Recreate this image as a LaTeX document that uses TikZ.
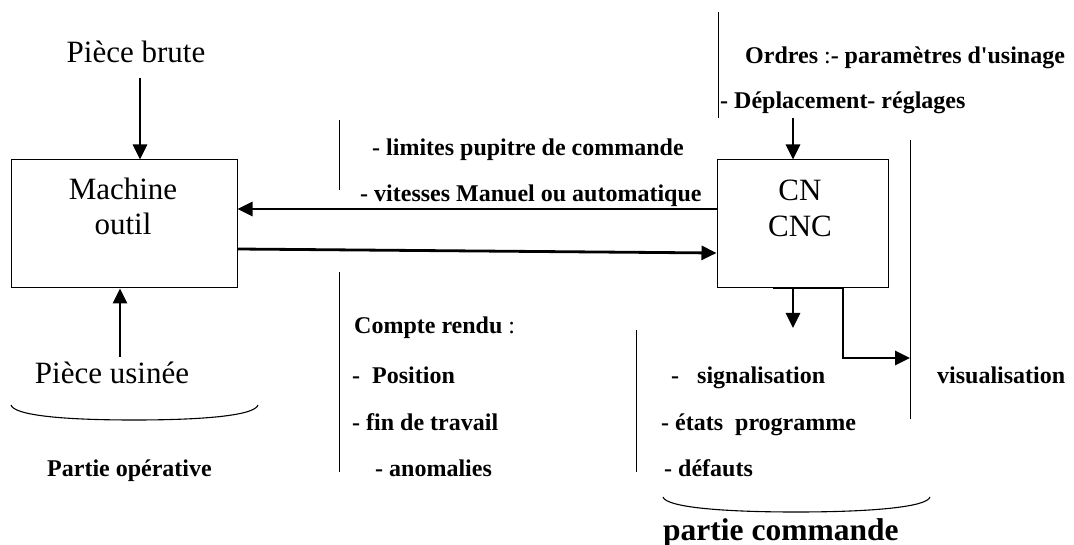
\documentclass[tikz,border=0pt]{standalone}
\usepackage{fontspec}
\setmainfont{Liberation Serif}
\usetikzlibrary{arrows.meta}

\begin{document}
\begin{tikzpicture}[x=1pt,y=-1pt,
  block/.style={draw=black,line width=1pt,minimum width=#1,minimum height=128pt,inner sep=0pt},
  big/.style={font=\fontsize{31}{35}\selectfont,inner sep=0pt,anchor=base},
  lbl/.style={font=\fontsize{24}{28}\selectfont\bfseries,inner sep=0pt,anchor=base west},
  flow/.style={line width=2.8pt,-{Triangle[length=15pt,width=14pt]}},
  link/.style={line width=2.8pt},
  sep/.style={line width=0.9pt},
  brace/.style={line width=1.1pt}]
\useasboundingbox (0,0) rectangle (1074,545);

% the two blocks
\node[block=226pt] (M) at (124,224) {};
\node[block=171pt] (C) at (802.5,224) {};
\node[big] (Mt1) at (123,200) {Machine};
\node[big] (Mt2) at (123,235) {outil};
\node[big] (Ct1) at (800,201) {CN};
\node[big] (Ct2) at (800,236.5) {CNC};

% raw and machined part
\node[big] (pb) at (136,63) {Pièce brute};
\node[big] (pu) at (112,383) {Pièce usinée};
\coordinate (pbOut) at (140,78);
\coordinate (puOut) at (120,357);
\draw[flow] (pbOut) -- (pbOut |- M.north);
\draw[flow] (puOut) -- (puOut |- M.south);

% exchanges between machine and controller
\coordinate (ordIn) at (M.east |- 0,209);
\coordinate (ordOut) at (C.west |- 0,209);
\coordinate (crOut) at (M.east |- 0,249);
\coordinate (crIn) at (C.west |- 0,253);
\draw[flow] (ordOut) -- (ordIn);
\draw[flow] (crOut) -- (crIn);

% orders entering the controller
\coordinate (cmdIn) at (793,118);
\draw[flow] (cmdIn) -- (cmdIn |- C.north);

% controller outputs
\coordinate (oL) at (773,288);
\coordinate (oA) at (793,288);
\coordinate (oB) at (843,288);
\coordinate (vis) at (910,358);
\draw[link] (oL) -- (oB);
\draw[flow] (oA) -- ++(0,40);
\draw[flow] (oB) -- (oB |- vis) -- (vis);

% separator strokes
\coordinate (s1a) at (339,120); \coordinate (s1b) at (339,190);
\coordinate (s2a) at (339,272); \coordinate (s2b) at (339,472);
\coordinate (s3a) at (718,12);  \coordinate (s3b) at (718,118);
\coordinate (s4a) at (910,140); \coordinate (s4b) at (910,419);
\coordinate (s5a) at (636,330); \coordinate (s5b) at (636,472);
\draw[sep] (s1a) -- (s1b);
\draw[sep] (s2a) -- (s2b);
\draw[sep] (s3a) -- (s3b);
\draw[sep] (s4a) -- (s4b);
\draw[sep] (s5a) -- (s5b);

% labels
\node[lbl] (l1) at (372,155.7) {- limites pupitre de commande};
\node[lbl] (l2) at (360,201.7) {- vitesses Manuel ou automatique};
\node[lbl] (o1) at (745,63.3) {Ordres {\mdseries :}- paramètres d\textquotesingle usinage};
\node[lbl] (o2) at (720,108.3) {- Déplacement- réglages};
\node[lbl] (r0) at (354,334) {Compte rendu {\mdseries :}};
\node[lbl] (r1) at (352,384) {-\ \ Position};
\node[lbl] (r2) at (352,430.7) {- fin de travail};
\node[lbl] (r3) at (375,476.7) {- anomalies};
\node[lbl] (g1) at (671,384) {-\ \ \ signalisation};
\node[lbl] (g2) at (661,430) {- états\ \ programme};
\node[lbl] (g3) at (664,476.7) {- défauts};
\node[lbl] (g4) at (937,384) {visualisation};
\node[lbl] (po) at (47,476.7) {Partie opérative};
\node[lbl,font=\fontsize{31.5}{35}\selectfont\bfseries] (pc) at (663,540) {partie commande};

% group braces
\draw[brace] (11,405) .. controls (14,415) and (60,420) .. (134,420)
                      .. controls (208,420) and (255,415) .. (258,405);
\draw[brace] (663,497) .. controls (666,507) and (720,512) .. (796,512)
                       .. controls (872,512) and (927,507) .. (930,497);
\end{tikzpicture}
\end{document}
